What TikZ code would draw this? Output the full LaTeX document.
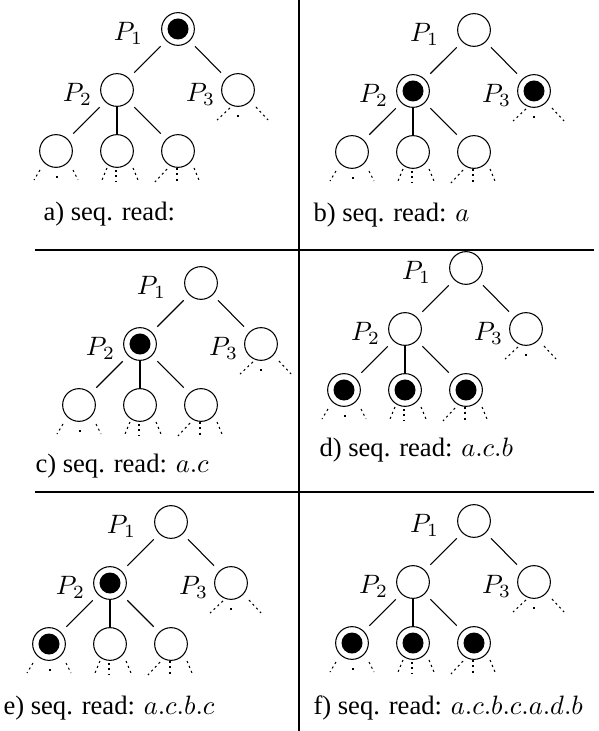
\documentclass[tikz,border=0pt]{standalone}
\usepackage{fontspec}
\setmainfont{Liberation Serif}
\usetikzlibrary{calc}
\tikzset{
  emptyn/.style={rectangle, minimum size=13pt, inner sep=0pt, outer sep=0pt,
    path picture={\draw[line width=0.4pt] (path picture bounding box.center) circle (6.15pt);}},
  fulln/.style={rectangle, minimum size=13pt, inner sep=0pt, outer sep=0pt,
    path picture={\draw[line width=0.4pt] (path picture bounding box.center) circle (6.15pt);
                  \fill (path picture bounding box.center) circle (3.95pt);}},
  treeedge/.style={line width=0.4pt},
  stub/.style={line width=0.4pt, dash pattern=on 0.8pt off 1.2pt},
  plab/.style={anchor=east, inner sep=0pt, outer sep=0pt},
  captext/.style={anchor=base west, inner sep=0pt, font=\fontsize{10}{12}\selectfont},
  divider/.style={line width=0.5pt}
}
% dotted stubs below leaves
\newcommand\stubsSide[1]{%
  \draw[stub] ($(#1)+(-8,18)$) -- ($(#1)+(-21,30)$);
  \draw[stub] ($(#1)+(0,25)$) -- ($(#1)+(0,28)$);
  \draw[stub] ($(#1)+(18,17)$) -- ($(#1)+(30,30)$);}
\newcommand\stubsLeft[1]{%
  \draw[stub] ($(#1)+(-16,19)$) -- ($(#1)+(-22,29)$);
  \draw[stub] ($(#1)+(1,25)$) -- ($(#1)+(1,28)$);
  \draw[stub] ($(#1)+(17,19)$) -- ($(#1)+(22,29)$);}
\newcommand\stubsMid[1]{%
  \draw[stub] ($(#1)+(-10,17)$) -- ($(#1)+(-15,29)$);
  \draw[stub] ($(#1)+(-1,19)$) -- ($(#1)+(-1,31)$);
  \draw[stub] ($(#1)+(16,17)$) -- ($(#1)+(21,29)$);}
\newcommand\stubsRight[1]{%
  \draw[stub] ($(#1)+(-11,18)$) -- ($(#1)+(-23,31)$);
  \draw[stub] ($(#1)+(-1,17)$) -- ($(#1)+(-1,31)$);
  \draw[stub] ($(#1)+(16,17)$) -- ($(#1)+(21,29)$);}
\newcommand\treepanel[9]{%
  \node[#4] (#1a) at ({#2},{#3}) {};
  \node[#5] (#1b) at ({#2-61},{#3+61}) {};
  \node[#6] (#1c) at ({#2+60},{#3+61}) {};
  \node[#7] (#1d) at ({#2-122},{#3+122}) {};
  \node[#8] (#1e) at ({#2-61},{#3+122}) {};
  \node[#9] (#1f) at ({#2},{#3+122}) {};
  \node[plab] (#1al) at ($(#1a)+(-35,4)$) {$P_1$};
  \node[plab] (#1bl) at ($(#1b)+(-25,4)$) {$P_2$};
  \node[plab] (#1cl) at ($(#1c)+(-23,4)$) {$P_3$};
  \draw[treeedge] (#1a) -- (#1b);
  \draw[treeedge] (#1a) -- (#1c);
  \draw[treeedge] (#1b) -- (#1d);
  \draw[treeedge] (#1b) -- (#1e);
  \draw[treeedge] (#1b) -- (#1f);
  \stubsSide{#1c}
  \stubsLeft{#1d}
  \stubsMid{#1e}
  \stubsRight{#1f}}
\begin{document}
\begin{tikzpicture}[x=0.376pt, y=-0.376pt]
  \useasboundingbox (0,0) rectangle (598,731);
  % dividers
  \coordinate (vtop) at (299,0);
  \coordinate (vbot) at (299,731);
  \coordinate (h1l) at (35,250);
  \coordinate (h1r) at (594,250);
  \coordinate (h2l) at (35,492);
  \coordinate (h2r) at (594,492);
  \draw[divider] (vtop) -- (vbot);
  \draw[divider] (h1l) -- (h1r);
  \draw[divider] (h2l) -- (h2r);
  % panels
  \treepanel{A}{178}{29}{fulln}{emptyn}{emptyn}{emptyn}{emptyn}{emptyn}
  \treepanel{B}{474}{30}{emptyn}{fulln}{fulln}{emptyn}{emptyn}{emptyn}
  \treepanel{C}{201}{283}{emptyn}{fulln}{emptyn}{emptyn}{emptyn}{emptyn}
  \treepanel{D}{466}{268}{emptyn}{emptyn}{emptyn}{fulln}{fulln}{fulln}
  \treepanel{E}{171}{522}{emptyn}{fulln}{emptyn}{fulln}{emptyn}{emptyn}
  \treepanel{F}{474}{521}{emptyn}{emptyn}{emptyn}{fulln}{fulln}{fulln}
  % captions
  \node[captext] (capA) at (43,221) {a) seq. read:};
  \node[captext] (capB) at (313,222) {b) seq. read: $a$};
  \node[captext] (capC) at (35,472) {c) seq. read: $a.c$};
  \node[captext] (capD) at (319,456) {d) seq. read: $a.c.b$};
  \node[captext] (capE) at (3,714) {e) seq. read: $a.c.b.c$};
  \node[captext] (capF) at (313,714) {f) seq. read: $a.c.b.c.a.d.b$};
\end{tikzpicture}
\end{document}
